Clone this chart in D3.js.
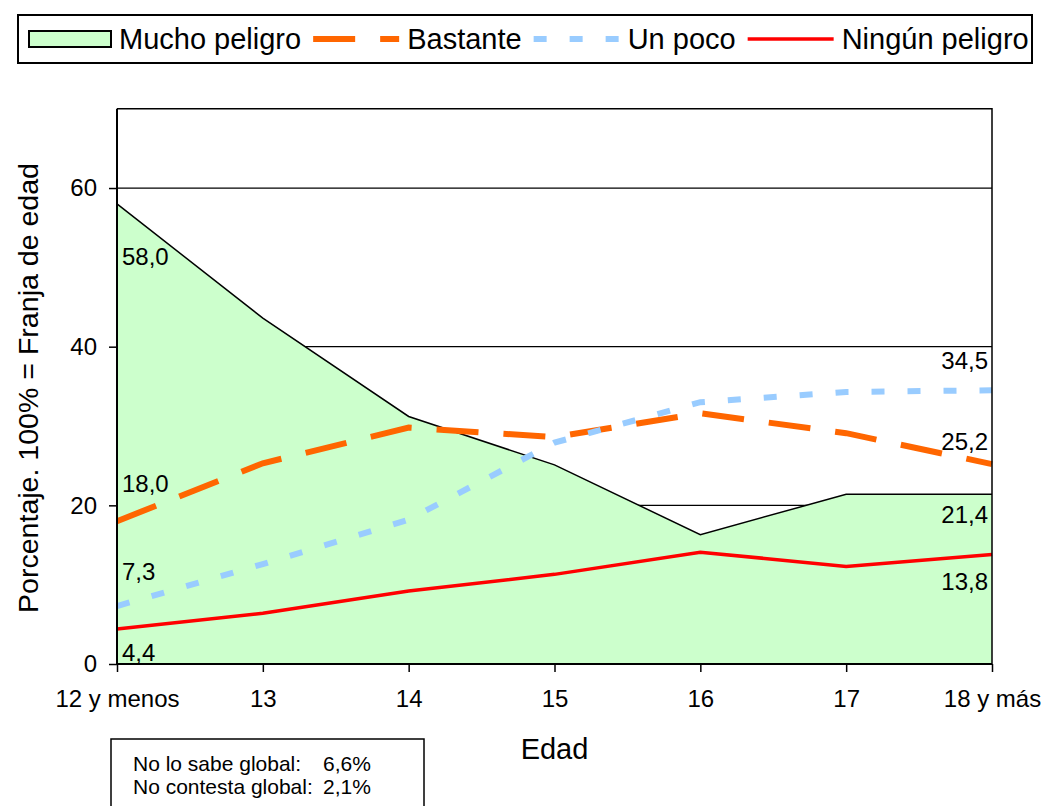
<!DOCTYPE html>
<html>
<head>
<meta charset="utf-8">
<script src="https://cdn.jsdelivr.net/npm/d3@7/dist/d3.min.js"></script>
<style>
  html, body { margin: 0; padding: 0; background: #fff; }
  svg { display: block; font-family: "Liberation Sans", Arial, sans-serif; }
</style>
</head>
<body>
<svg id="chart" width="1041" height="806"></svg>
<script>
// ---- data ----
const categories = ["12 y menos", "13", "14", "15", "16", "17", "18 y más"];
const mucho    = [58.0, 43.6, 31.2, 25.1, 16.3, 21.4, 21.4];
const bastante = [18.0, 25.3, 29.8, 28.6, 31.6, 29.1, 25.2];
const unPoco   = [7.3, 12.6, 18.2, 27.9, 33.0, 34.3, 34.5];
const ningun   = [4.4, 6.4, 9.2, 11.3, 14.1, 12.3, 13.8];
const seriesNames = ["Mucho peligro", "Bastante", "Un poco", "Ningún peligro"];
const yTicks = [0, 20, 40, 60];
const yMax = 70;
const noteLabels = ["No lo sabe global:", "No contesta global:"];
const noteValues = ["6,6%", "2,1%"];
const fmt = v => v.toFixed(1).replace(".", ",");

// ---- layout ----
const svg = d3.select("#chart");
const L = 117, R = 992, T = 108.7, B = 664;
const x = d3.scalePoint().domain(categories).range([L, R]).padding(0);
const y = d3.scaleLinear().domain([0, yMax]).range([B, T]);

const styles = [
  { fill: "#CCFFCC" },
  { stroke: "#FF6600", width: 6, dash: "42,25" },
  { stroke: "#99CCFF", width: 6, dash: "13,23" },
  { stroke: "#FF0000", width: 3.5, dash: null }
];

// gridlines (behind area)
svg.append("g").selectAll("line").data(yTicks.filter(d => d > 0)).join("line")
  .attr("x1", L).attr("x2", R)
  .attr("y1", d => y(d)).attr("y2", d => y(d))
  .attr("stroke", "#000").attr("stroke-width", 1.3);

// area
const area = d3.area().x((d, i) => x(categories[i])).y0(y(0)).y1(d => y(d));
svg.append("path").datum(mucho).attr("d", area)
  .attr("fill", styles[0].fill).attr("stroke", "none");
const topLine = d3.line().x((d, i) => x(categories[i])).y(d => y(d));
svg.append("path").datum(mucho).attr("d", topLine)
  .attr("fill", "none").attr("stroke", "#000").attr("stroke-width", 1.5);

// lines
[bastante, unPoco, ningun].forEach((s, k) => {
  const st = styles[k + 1];
  svg.append("path").datum(s).attr("d", topLine)
    .attr("fill", "none").attr("stroke", st.stroke).attr("stroke-width", st.width)
    .attr("stroke-dasharray", st.dash);
});

// frame (top & right)
svg.append("path")
  .attr("d", `M${L},${T}H${R}V${B}`)
  .attr("fill", "none").attr("stroke", "#000").attr("stroke-width", 1.5);

// axes
const yAxis = svg.append("g").attr("transform", `translate(${L},0)`)
  .call(d3.axisLeft(y).tickValues(yTicks).tickSize(8).tickSizeOuter(0).tickPadding(12));
const xAxis = svg.append("g").attr("transform", `translate(0,${B})`)
  .call(d3.axisBottom(x).tickSize(8).tickSizeOuter(0).tickPadding(18));
[yAxis, xAxis].forEach(g => {
  g.select(".domain").attr("stroke", "#000").attr("stroke-width", 2);
  g.selectAll(".tick line").attr("stroke", "#000").attr("stroke-width", 1.5);
  g.selectAll("text").attr("font-size", 24).attr("fill", "#000")
    .attr("font-family", "Liberation Sans, Arial, sans-serif");
});
yAxis.select(".domain").attr("d", `M0,${T}V${B}`);
xAxis.select(".domain").attr("d", `M${L},0H${R}`);

// axis titles
svg.append("text").attr("x", (L + R) / 2 - 0).attr("y", 759)
  .attr("text-anchor", "middle").attr("font-size", 29).text("Edad");
svg.append("text")
  .attr("transform", `translate(38,388) rotate(-90)`)
  .attr("text-anchor", "middle").attr("font-size", 27)
  .attr("textLength", 450).attr("lengthAdjust", "spacingAndGlyphs")
  .text("Porcentaje. 100% = Franja de edad");

// data labels (first and last point of each series)
const allSeries = [mucho, bastante, unPoco, ningun];
const firstOffsets = [61, -29, -26, 32];
const lastOffsets = [29, -14, -21, 35];
allSeries.forEach((s, k) => {
  svg.append("text").attr("x", L + 5).attr("y", y(s[0]) + firstOffsets[k])
    .attr("font-size", 24).attr("text-anchor", "start").text(fmt(s[0]));
  svg.append("text").attr("x", R - 4).attr("y", y(s[s.length - 1]) + lastOffsets[k])
    .attr("font-size", 24).attr("text-anchor", "end").text(fmt(s[s.length - 1]));
});

// legend
const lg = svg.append("g");
lg.append("rect").attr("x", 18).attr("y", 15).attr("width", 1014).attr("height", 48)
  .attr("fill", "#fff").attr("stroke", "#000").attr("stroke-width", 2);
let cx = 29;
seriesNames.forEach((name, k) => {
  const st = styles[k];
  const sw = k === 0 ? 82 : 86;
  if (k === 0) {
    lg.append("rect").attr("x", cx).attr("y", 31).attr("width", sw).attr("height", 16)
      .attr("fill", st.fill).attr("stroke", "#000").attr("stroke-width", 2);
  } else {
    lg.append("line").attr("x1", cx).attr("x2", cx + sw).attr("y1", 39).attr("y2", 39)
      .attr("stroke", st.stroke).attr("stroke-width", st.width).attr("stroke-dasharray", st.dash);
  }
  cx += sw + 8;
  const t = lg.append("text").attr("x", cx).attr("y", 49).attr("font-size", 29).text(name);
  cx += t.node().getComputedTextLength() + 12;
});

// note box
const nb = svg.append("g");
nb.append("rect").attr("x", 111).attr("y", 739).attr("width", 313).attr("height", 80)
  .attr("fill", "#fff").attr("stroke", "#000").attr("stroke-width", 1.5);
noteLabels.forEach((lab, i) => {
  nb.append("text").attr("x", 133).attr("y", 771 + i * 23).attr("font-size", 21).text(lab);
  nb.append("text").attr("x", 323).attr("y", 771 + i * 23).attr("font-size", 21).text(noteValues[i]);
});
</script>
</body>
</html>
